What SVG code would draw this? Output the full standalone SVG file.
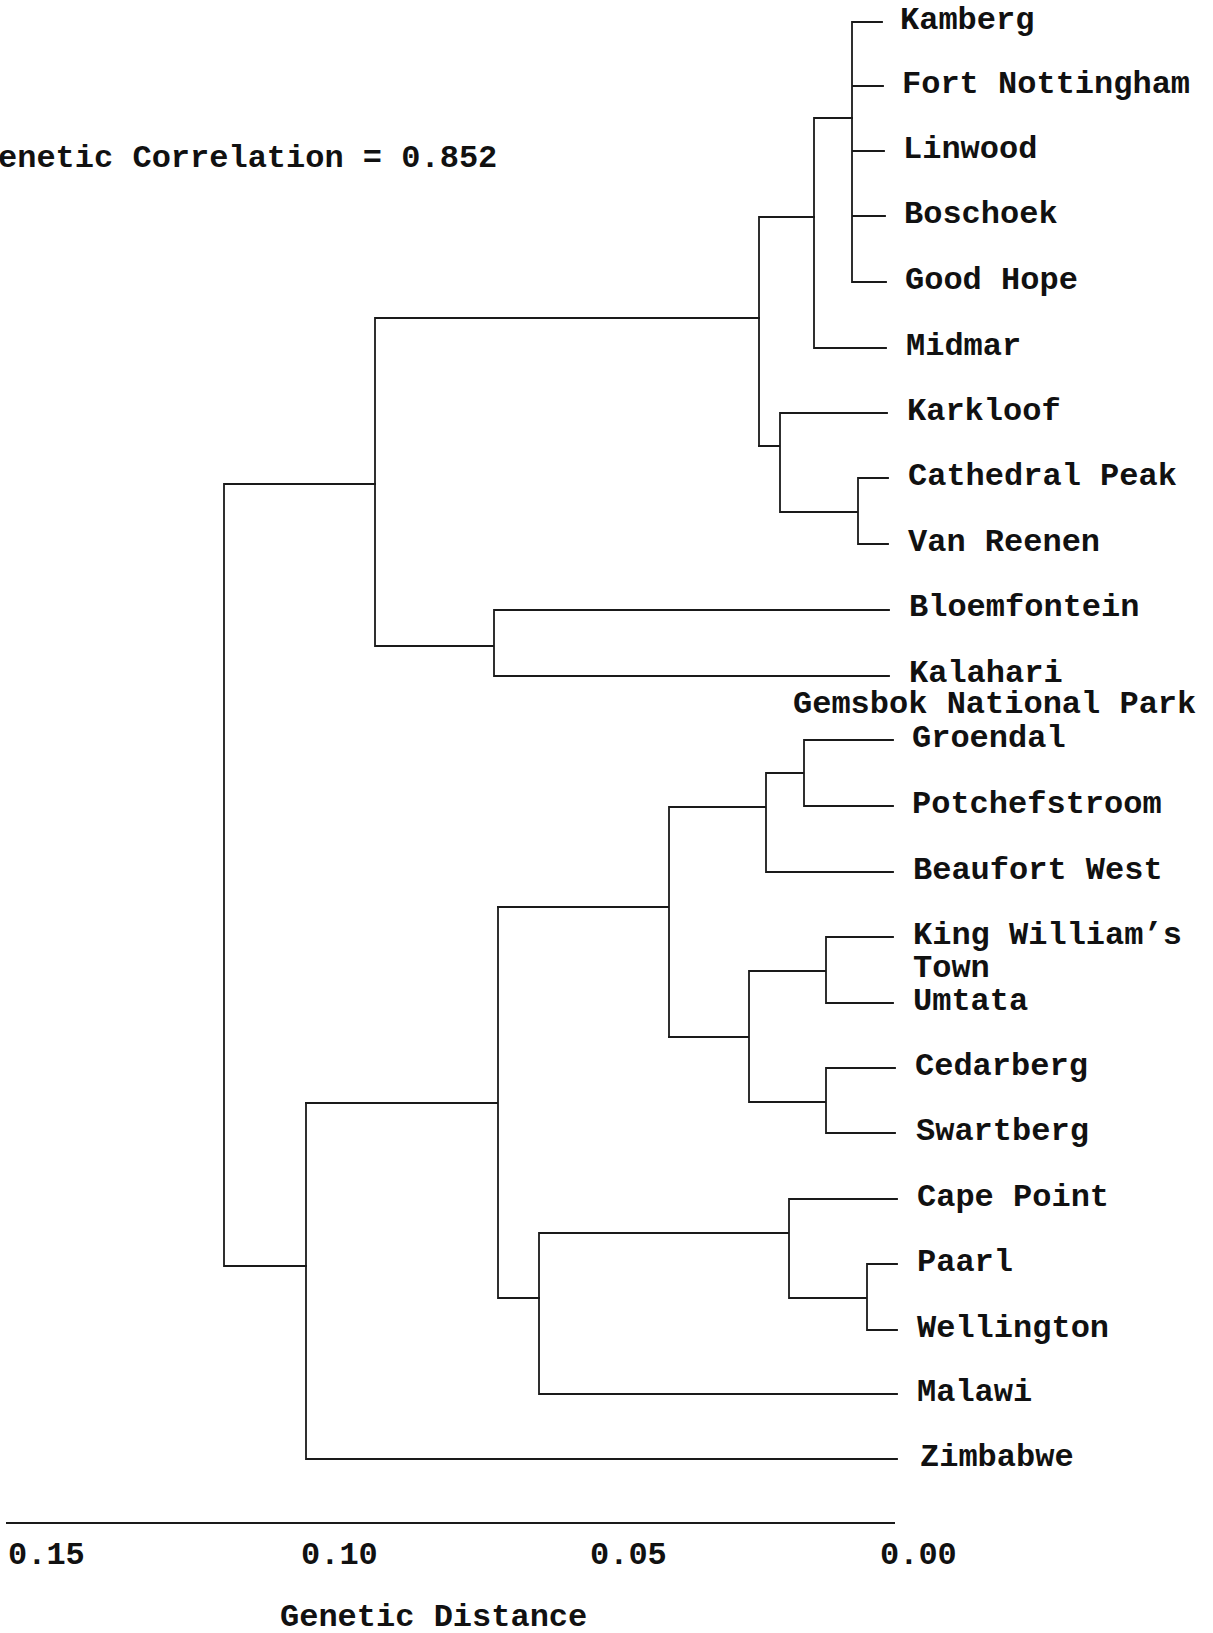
<svg xmlns="http://www.w3.org/2000/svg" width="1213" height="1633" viewBox="0 0 1213 1633">
<style>
  .t { font-family: "Liberation Mono", "Courier New", monospace; font-size: 32px; font-weight: bold; fill: #111; }
  .c path { fill: none; stroke: #1a1a1a; stroke-width: 1.8; stroke-linecap: square; }
</style>
<rect x="0" y="0" width="1213" height="1633" fill="#fff"/>
<g id="title"><text class="t" x="-2" y="167">enetic Correlation = 0.852</text></g>
<g class="c" id="connectors">
  <path d="M852 22 V282 M852 22 H882 M852 86 H883 M852 151 H884 M852 216 H885 M852 282 H886"/>
  <path d="M814 118 H852 M814 118 V348 M814 348 H886"/>
  <path d="M759 217 H814 M759 217 V446"/>
  <path d="M759 446 H780 M780 413 V512 M780 413 H887 M780 512 H858 M858 478 V544 M858 478 H888 M858 544 H888"/>
  <path d="M375 318 H759 M375 318 V646 M375 646 H494 M494 610 V676 M494 610 H889 M494 676 H889"/>
  <path d="M224 484 H375 M224 484 V1266 M224 1266 H306"/>
  <path d="M306 1103 V1459 M306 1459 H897"/>
  <path d="M306 1103 H498 M498 907 V1298 M498 1298 H539"/>
  <path d="M498 907 H669 M669 807 V1037 M669 807 H766 M766 773 V872 M766 872 H893 M766 773 H804 M804 740 V806 M804 740 H893 M804 806 H893"/>
  <path d="M669 1037 H749 M749 971 V1102 M749 971 H826 M826 937 V1003 M826 937 H893 M826 1003 H893 M749 1102 H826 M826 1068 V1133 M826 1068 H895 M826 1133 H895"/>
  <path d="M539 1233 V1394 M539 1394 H897 M539 1233 H789 M789 1199 V1298 M789 1199 H897 M789 1298 H867 M867 1264 V1330 M867 1264 H897 M867 1330 H897"/>
</g>
<g id="n-kamberg"><text class="t" x="900" y="29">Kamberg</text></g>
<g id="n-fort-nottingham"><text class="t" x="902" y="93">Fort Nottingham</text></g>
<g id="n-linwood"><text class="t" x="903" y="158">Linwood</text></g>
<g id="n-boschoek"><text class="t" x="904" y="223">Boschoek</text></g>
<g id="n-good-hope"><text class="t" x="905" y="289">Good Hope</text></g>
<g id="n-midmar"><text class="t" x="906" y="355">Midmar</text></g>
<g id="n-karkloof"><text class="t" x="907" y="420">Karkloof</text></g>
<g id="n-cathedral-peak"><text class="t" x="908" y="485">Cathedral Peak</text></g>
<g id="n-van-reenen"><text class="t" x="908" y="551">Van Reenen</text></g>
<g id="n-bloemfontein"><text class="t" x="909" y="616">Bloemfontein</text></g>
<g id="n-kalahari"><text class="t" x="909" y="682">Kalahari</text><text class="t" x="793" y="713">Gemsbok National Park</text></g>
<g id="n-groendal"><text class="t" x="912" y="747">Groendal</text></g>
<g id="n-potchefstroom"><text class="t" x="912" y="813">Potchefstroom</text></g>
<g id="n-beaufort-west"><text class="t" x="913" y="879">Beaufort West</text></g>
<g id="n-king-williams-town"><text class="t" x="913" y="944">King William’s</text><text class="t" x="913" y="977">Town</text></g>
<g id="n-umtata"><text class="t" x="913" y="1010">Umtata</text></g>
<g id="n-cedarberg"><text class="t" x="915" y="1075">Cedarberg</text></g>
<g id="n-swartberg"><text class="t" x="916" y="1140">Swartberg</text></g>
<g id="n-cape-point"><text class="t" x="917" y="1206">Cape Point</text></g>
<g id="n-paarl"><text class="t" x="917" y="1271">Paarl</text></g>
<g id="n-wellington"><text class="t" x="917" y="1337">Wellington</text></g>
<g id="n-malawi"><text class="t" x="917" y="1401">Malawi</text></g>
<g id="n-zimbabwe"><text class="t" x="920" y="1466">Zimbabwe</text></g>
<g id="axis">
  <path d="M6 1523 H895" fill="none" stroke="#1a1a1a" stroke-width="1.8"/>
  <text class="t" x="8" y="1564">0.15</text>
  <text class="t" x="301" y="1564">0.10</text>
  <text class="t" x="590" y="1564">0.05</text>
  <text class="t" x="880" y="1564">0.00</text>
  <text class="t" x="280" y="1626">Genetic Distance</text>
</g>
</svg>
